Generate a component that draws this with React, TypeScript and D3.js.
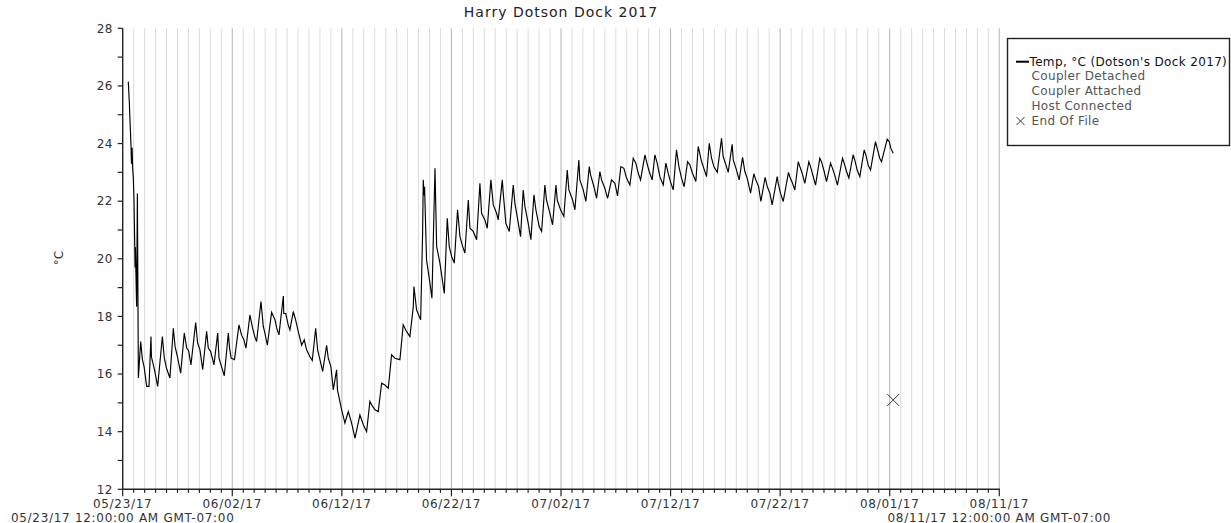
import React from "react";
import * as d3 from "d3";

const title = "Harry Dotson Dock 2017";
const startDate = new Date(2017, 4, 23);
const endDate = new Date(2017, 7, 11);
const yDomain = [12, 28];
const yTicks = [12, 13, 14, 15, 16, 17, 18, 19, 20, 21, 22, 23, 24, 25, 26, 27, 28];
const yLabelTicks = [12, 14, 16, 18, 20, 22, 24, 26, 28];
const startLabel = "05/23/17 12:00:00 AM GMT-07:00";
const endLabel = "08/11/17 12:00:00 AM GMT-07:00";
const legendItems = ["Temp, °C (Dotson's Dock 2017)", "Coupler Detached", "Coupler Attached", "Host Connected", "End Of File"];

// [days since 05/23/17 00:00, °C]
const launch: [number, number][] = [
  [0.51, 26.15], [0.6, 25.45], [0.76, 23.9], [0.8, 23.3], [0.86, 23.85], [0.9, 23.2], [0.97, 22.8],
  [1.03, 22.04], [1.1, 20.4], [1.13, 19.7], [1.16, 20.4], [1.2, 19.6], [1.27, 18.34], [1.34, 22.27], [1.43, 15.86],
];
const lateMay: [number, number][] = [
  [1.64, 17.13], [1.8, 16.5], [1.95, 16.26], [2.19, 15.57], [2.4, 15.57], [2.58, 17.3], [2.62, 16.6], [2.9, 16.15],
  [3.19, 15.57], [3.62, 17.3], [3.8, 16.55], [4.0, 16.2], [4.31, 15.86], [4.62, 17.59], [4.78, 16.95], [5.0, 16.6],
  [5.29, 16.03], [5.62, 17.42], [5.84, 16.9], [6.02, 16.8], [6.23, 16.32], [6.66, 17.79], [6.84, 17.07], [7.05, 16.84],
  [7.3, 16.15], [7.66, 17.48], [7.81, 16.9], [8.03, 16.78], [8.33, 16.32],
];
const earlyJune: [number, number][] = [
  [8.67, 17.42], [8.79, 16.55], [8.97, 16.32], [9.27, 15.94], [9.64, 17.42], [9.75, 16.9], [9.9, 16.55], [10.2, 16.5],
  [10.61, 17.71], [10.85, 17.35], [11.05, 17.2], [11.25, 16.9], [11.61, 18.05], [11.85, 17.6], [12.05, 17.3], [12.22, 17.13],
  [12.62, 18.52], [12.83, 17.65], [12.98, 17.42], [13.2, 17.0], [13.59, 18.14], [13.9, 17.88], [14.05, 17.6], [14.26, 17.36],
  [14.66, 18.71], [14.7, 18.1], [14.88, 18.1], [15.11, 17.7], [15.26, 17.53], [15.57, 18.17], [15.78, 17.88], [16.02, 17.48],
  [16.33, 17.0], [16.57, 17.19], [16.78, 16.84], [17.09, 16.6], [17.3, 16.47], [17.61, 17.59], [17.79, 16.84], [18.0, 16.5],
  [18.25, 16.09], [18.61, 17.0], [18.76, 16.55], [19.0, 16.26],
];
const midJune: [number, number][] = [
  [19.22, 15.45], [19.52, 16.15], [19.6, 15.45], [19.98, 14.76], [20.28, 14.3], [20.59, 14.7], [20.89, 14.3], [21.2, 13.78],
  [21.65, 14.58], [21.96, 14.24], [22.26, 14.0], [22.56, 15.05], [22.72, 14.93], [23.02, 14.76], [23.32, 14.7], [23.63, 15.68],
  [23.93, 15.62], [24.24, 15.51], [24.54, 16.67], [24.84, 16.55], [25.3, 16.5], [25.6, 17.71], [25.9, 17.48], [26.21, 17.3],
  [26.52, 18.34], [26.58, 19.04], [26.82, 18.23], [27.19, 17.88],
];
const lateJune: [number, number][] = [
  [27.37, 20.89], [27.43, 22.74], [27.5, 22.2], [27.55, 22.5], [27.73, 19.96], [28.04, 19.15], [28.22, 18.63], [28.5, 23.14],
  [28.65, 20.43], [28.95, 19.85], [29.35, 18.8], [29.62, 21.41], [29.8, 20.43], [30.02, 20.08], [30.26, 19.85], [30.56, 21.7],
  [30.78, 20.77], [31.02, 20.43], [31.23, 20.2], [31.54, 22.04], [31.69, 21.06], [31.99, 20.95], [32.3, 20.66], [32.6, 22.62],
  [32.75, 21.58], [33.05, 21.35], [33.27, 21.06], [33.6, 22.74], [33.82, 21.87], [34.12, 21.58], [34.27, 21.35], [34.64, 22.74],
  [34.73, 22.27], [34.97, 21.23], [35.28, 20.95],
];
const earlyJuly: [number, number][] = [
  [35.64, 22.56], [35.79, 21.93], [36.0, 21.47], [36.31, 20.77], [36.55, 22.39], [36.71, 21.81], [37.01, 21.23], [37.25, 20.66],
  [37.53, 22.22], [37.71, 21.7], [38.01, 21.12], [38.23, 20.95], [38.53, 22.56], [38.68, 22.04], [38.99, 21.58], [39.23, 21.18],
  [39.54, 22.56], [39.66, 22.04], [39.96, 21.7], [40.26, 21.47], [40.57, 23.08], [40.72, 22.39], [41.06, 22.04], [41.27, 21.7],
  [41.63, 23.43], [41.72, 22.74], [42.03, 22.39], [42.27, 21.99], [42.58, 23.2], [42.7, 22.91], [43.0, 22.51], [43.25, 22.1],
  [43.55, 23.03], [43.7, 22.74], [44.0, 22.45], [44.25, 22.1], [44.61, 22.74], [44.92, 22.62], [45.16, 22.18],
];
const midJuly: [number, number][] = [
  [45.46, 23.2], [45.74, 23.14], [45.98, 22.8], [46.29, 22.56], [46.59, 23.49], [46.83, 23.32], [47.05, 22.97], [47.26, 22.74],
  [47.66, 23.61], [47.81, 23.37], [48.05, 23.03], [48.32, 22.74], [48.57, 23.61], [48.78, 23.32], [49.02, 22.85], [49.33, 22.56],
  [49.57, 23.32], [49.78, 22.97], [49.99, 22.68], [50.24, 22.39], [50.54, 23.78], [50.76, 23.2], [51.0, 22.8], [51.24, 22.5],
  [51.55, 23.37], [51.76, 23.26], [52.0, 22.97], [52.31, 22.68], [52.52, 23.9], [52.83, 23.37], [53.13, 23.03], [53.28, 22.85],
  [53.53, 24.01], [53.74, 23.49], [53.95, 23.2], [54.26, 23.0], [54.65, 24.18], [54.8, 23.55], [55.05, 23.26], [55.26, 23.0],
  [55.62, 23.97], [55.72, 23.43], [56.02, 23.08], [56.26, 22.74],
];
const lateJuly: [number, number][] = [
  [56.57, 23.52], [56.78, 23.03], [56.99, 22.8], [57.3, 22.28], [57.6, 22.95], [57.78, 22.74], [58.03, 22.51], [58.24, 21.99],
  [58.63, 22.83], [58.82, 22.51], [59.06, 22.28], [59.27, 21.87], [59.73, 22.85], [59.82, 22.62], [60.03, 22.28], [60.28, 21.99],
  [60.76, 23.0], [60.88, 22.85], [61.13, 22.62], [61.34, 22.39], [61.65, 23.37], [61.8, 23.2], [62.01, 22.97], [62.25, 22.62],
  [62.62, 23.37], [62.77, 23.2], [63.02, 22.85], [63.23, 22.56], [63.62, 23.49], [63.77, 23.37], [64.02, 23.03], [64.23, 22.68],
  [64.6, 23.32], [64.78, 23.14], [65.02, 22.85], [65.23, 22.56], [65.69, 23.49], [65.84, 23.32], [66.06, 23.03], [66.27, 22.8],
  [66.66, 23.61], [66.81, 23.43], [67.03, 23.08], [67.27, 22.85], [67.67, 23.78], [67.82, 23.61], [68.03, 23.26], [68.25, 23.08],
  [68.7, 24.07], [68.85, 23.84], [69.09, 23.49], [69.25, 23.37], [69.77, 24.15], [69.95, 24.07], [70.1, 23.84], [70.32, 23.66],
];
const endOfFile: [number, number] = [70.32, 15.1];

const W = 1231;
const H = 523;
const plot = { left: 122.7, right: 999.3, top: 28.3, bottom: 489.3 };
const font = "'DejaVu Sans', sans-serif";

const toDate = (d: number) => new Date(startDate.getTime() + d * 864e5);

export default function App() {
  const x = d3.scaleTime().domain([startDate, endDate]).range([plot.left, plot.right]);
  const y = d3.scaleLinear().domain(yDomain).range([plot.bottom, plot.top]);
  const series = [...launch, ...lateMay, ...earlyJune, ...midJune, ...lateJune, ...earlyJuly, ...midJuly, ...lateJuly];
  const line = d3
    .line<[number, number]>()
    .x((p) => x(toDate(p[0])))
    .y((p) => y(p[1]));
  const days = d3.timeDay.range(startDate, d3.timeDay.offset(endDate, 1));
  const fmt = d3.timeFormat("%m/%d/%y");
  const ex = x(toDate(endOfFile[0]));
  const ey = y(endOfFile[1]);
  const lg = { x: 1007.5, y: 38.5, w: 222, h: 107 };
  const lgRows = [65.7, 80, 94.8, 110, 125];

  return (
    <svg width={W} height={H} style={{ position: "absolute", left: 0, top: 0, background: "#fff" }} fontFamily={font}>
      {days.map((d, i) =>
        i === 0 ? null : (
          <line key={"g" + i} x1={x(d)} x2={x(d)} y1={plot.top} y2={plot.bottom}
            stroke={i % 10 === 0 ? "#b4b4b4" : "#dcdcdc"} strokeWidth={1} />
        )
      )}
      <path d={line(series) || ""} fill="none" stroke="#000" strokeWidth={1.15} strokeLinejoin="miter" />
      <g stroke="#333" strokeWidth={1}>
        <line x1={ex - 6} x2={ex + 6} y1={ey - 6} y2={ey + 6} />
        <line x1={ex - 6} x2={ex + 6} y1={ey + 6} y2={ey - 6} />
      </g>
      {/* y axis */}
      <line x1={plot.left} x2={plot.left} y1={plot.top} y2={plot.bottom + 0.5} stroke="#222" strokeWidth={1.4} />
      {yTicks.map((t) => (
        <line key={"yt" + t} x1={plot.left - 5} x2={plot.left} y1={y(t)} y2={y(t)} stroke="#222" strokeWidth={1.2} />
      ))}
      {yLabelTicks.map((t) => (
        <text key={"yl" + t} x={plot.left - 10} y={y(t)} dy="0.36em" textAnchor="end" fontSize={12} fill="#333" letterSpacing={0.3}>
          {t}
        </text>
      ))}
      <text transform={`translate(63,258) rotate(-90)`} textAnchor="middle" fontSize={12} fill="#333">°C</text>
      {/* x axis */}
      <line x1={plot.left - 0.5} x2={plot.right + 0.5} y1={plot.bottom} y2={plot.bottom} stroke="#222" strokeWidth={1.4} />
      {days.map((d, i) => (
        <line key={"xt" + i} x1={x(d)} x2={x(d)} y1={plot.bottom} y2={plot.bottom + (i % 10 === 0 ? 7 : 3.5)} stroke="#222" strokeWidth={1.2} />
      ))}
      {days.filter((_, i) => i % 10 === 0).map((d, i) => (
        <text key={"xl" + i} x={x(d)} y={507.5} textAnchor="middle" fontSize={12} fill="#333" letterSpacing={0.7}>
          {fmt(d)}
        </text>
      ))}
      <text x={x(startDate)} y={521.5} textAnchor="middle" fontSize={12} fill="#333" letterSpacing={0.7}>{startLabel}</text>
      <text x={x(endDate)} y={521.5} textAnchor="middle" fontSize={12} fill="#333" letterSpacing={0.7}>{endLabel}</text>
      {/* title */}
      <text x={(plot.left + plot.right) / 2} y={17} textAnchor="middle" fontSize={14} fill="#222" letterSpacing={1}>
        {title}
      </text>
      {/* legend */}
      <rect x={lg.x} y={lg.y} width={lg.w} height={lg.h} fill="#fff" stroke="#222" strokeWidth={1.4} />
      <line x1={1016} x2={1029} y1={lgRows[0] - 4} y2={lgRows[0] - 4} stroke="#000" strokeWidth={2} />
      <g stroke="#333" strokeWidth={1}>
        <line x1={1016.5} x2={1024.5} y1={lgRows[4] - 8} y2={lgRows[4]} />
        <line x1={1016.5} x2={1024.5} y1={lgRows[4]} y2={lgRows[4] - 8} />
      </g>
      {legendItems.map((s, i) => (
        <text key={"lg" + i} x={i === 0 ? 1029.5 : 1031.5} y={lgRows[i]} fontSize={12} fill={i === 0 ? "#111" : "#555"} letterSpacing={0.35}>
          {s}
        </text>
      ))}
    </svg>
  );
}
